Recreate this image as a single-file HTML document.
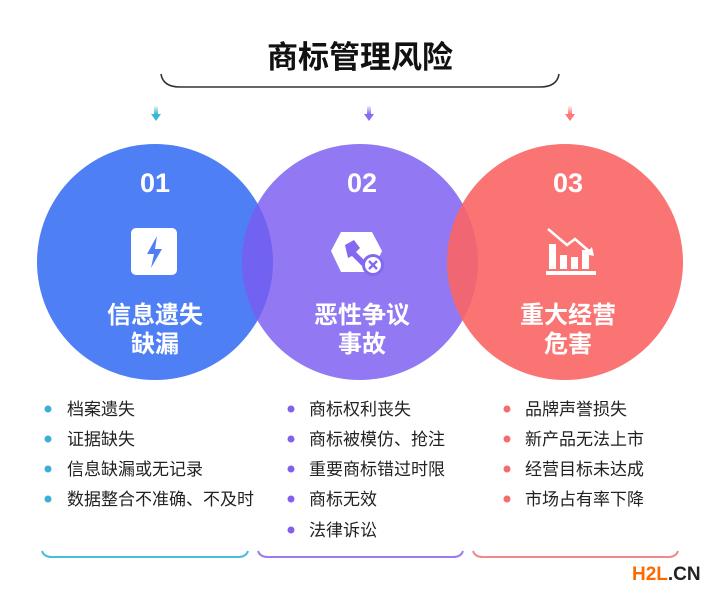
<!DOCTYPE html>
<html><head><meta charset="utf-8"><style>
body{margin:0;background:#fff;}
svg{display:block;}
text{font-family:"Liberation Sans","Noto Sans CJK SC",sans-serif;}
</style></head><body>
<svg width="720" height="596" viewBox="0 0 720 596" xmlns="http://www.w3.org/2000/svg">
<defs>
<linearGradient id="ga" x1="0" y1="0" x2="0" y2="1"><stop offset="0" stop-color="#3bb8d8" stop-opacity="0.1"/><stop offset="1" stop-color="#3bb8d8"/></linearGradient>
<linearGradient id="gb" x1="0" y1="0" x2="0" y2="1"><stop offset="0" stop-color="#8a6cf0" stop-opacity="0.1"/><stop offset="1" stop-color="#8a6cf0"/></linearGradient>
<linearGradient id="gc" x1="0" y1="0" x2="0" y2="1"><stop offset="0" stop-color="#f77" stop-opacity="0.1"/><stop offset="1" stop-color="#f77"/></linearGradient>
</defs>
<text x="360" y="68" text-anchor="middle" font-size="31" font-weight="bold" fill="#111">商标管理风险</text>
<path d="M161 74 Q163 87 180 87 L540 87 Q557 87 559 74" fill="none" stroke="#333" stroke-width="1.6"/>
<g><rect x="154" y="106" width="4" height="8" fill="url(#ga)"/><path d="M151 114 L161 114 L156 121Z" fill="#3bb8d8"/></g>
<g><rect x="367" y="106" width="4" height="8" fill="url(#gb)"/><path d="M364 114 L374 114 L369 121Z" fill="#8a6cf0"/></g>
<g><rect x="568" y="106" width="4" height="8" fill="url(#gc)"/><path d="M565 114 L575 114 L570 121Z" fill="#f77"/></g>
<circle cx="155" cy="262" r="118" fill="#4f7ff5"/>
<circle cx="360" cy="262" r="118" fill="#7a5cf0" fill-opacity="0.82"/>
<circle cx="565" cy="262" r="118" fill="#fb6565" fill-opacity="0.9"/>
<g fill="#fff" font-weight="bold" text-anchor="middle">
<text x="155" y="192" font-size="27">01</text>
<text x="362" y="192" font-size="27">02</text>
<text x="568" y="192" font-size="27">03</text>
<text x="155" y="323" font-size="24">信息遗失</text>
<text x="155" y="352" font-size="24">缺漏</text>
<text x="362" y="323" font-size="24">恶性争议</text>
<text x="362" y="352" font-size="24">事故</text>
<text x="568" y="323" font-size="24">重大经营</text>
<text x="568" y="352" font-size="24">危害</text>
</g>
<rect x="131" y="228" width="46" height="47" rx="5" fill="#fff"/>
<path d="M157 236 L147 254 L154 254 L151 268 L162 249 L155 249Z" fill="#4f7ff5"/>
<path d="M341 232 L372 232 L382 251 L372 272 L341 272 L331 251Z" fill="#fff"/>
<path d="M345 245 L354 240 L360 248 L356 252 L366 262 L362 266 L352 256 L348 258Z" fill="#8568f0"/>
<circle cx="373" cy="265" r="11" fill="#8568f0"/><circle cx="373" cy="265" r="8" fill="#fff"/>
<path d="M369 261 L377 269 M377 261 L369 269" stroke="#8568f0" stroke-width="2.4"/>
<g fill="#fff"><rect x="546" y="271" width="50" height="4"/><rect x="549" y="244" width="7" height="25"/><rect x="560" y="255" width="7" height="14"/><rect x="571" y="257" width="7" height="12"/><rect x="582" y="250" width="7" height="19"/></g>
<path d="M548 229 L567 245 L575 239 L590 252" fill="none" stroke="#fff" stroke-width="2.5"/><path d="M585 254 L594 256 L592 247Z" fill="#fff"/>
<g font-size="17" fill="#222">
<g fill="#3bb0d6"><circle cx="48" cy="409" r="3.5"/><circle cx="48" cy="439" r="3.5"/><circle cx="48" cy="469" r="3.5"/><circle cx="48" cy="499" r="3.5"/></g>
<text x="67" y="415">档案遗失</text><text x="67" y="445">证据缺失</text><text x="67" y="475">信息缺漏或无记录</text><text x="67" y="505">数据整合不准确、不及时</text>
<g fill="#8160f0"><circle cx="291" cy="409" r="3.5"/><circle cx="291" cy="439" r="3.5"/><circle cx="291" cy="469" r="3.5"/><circle cx="291" cy="499" r="3.5"/><circle cx="291" cy="530" r="3.5"/></g>
<text x="309" y="415">商标权利丧失</text><text x="309" y="445">商标被模仿、抢注</text><text x="309" y="475">重要商标错过时限</text><text x="309" y="505">商标无效</text><text x="309" y="536">法律诉讼</text>
<g fill="#f46d6d"><circle cx="507" cy="409" r="3.5"/><circle cx="507" cy="439" r="3.5"/><circle cx="507" cy="469" r="3.5"/><circle cx="507" cy="499" r="3.5"/></g>
<text x="525" y="415">品牌声誉损失</text><text x="525" y="445">新产品无法上市</text><text x="525" y="475">经营目标未达成</text><text x="525" y="505">市场占有率下降</text>
</g>
<path d="M42 551 Q44 557 52 557 L238 557 Q246 557 248 551" fill="none" stroke="#4cbcd8" stroke-width="2"/>
<path d="M258 551 Q260 557 268 557 L453 557 Q461 557 463 551" fill="none" stroke="#9b7cf0" stroke-width="2"/>
<path d="M473 551 Q475 557 483 557 L668 557 Q676 557 678 551" fill="none" stroke="#ee8a88" stroke-width="2"/>
<text x="632" y="580" font-size="19" font-weight="bold" fill="#ff6a00">H2L<tspan fill="#222">.CN</tspan></text>
</svg>
</body></html>
